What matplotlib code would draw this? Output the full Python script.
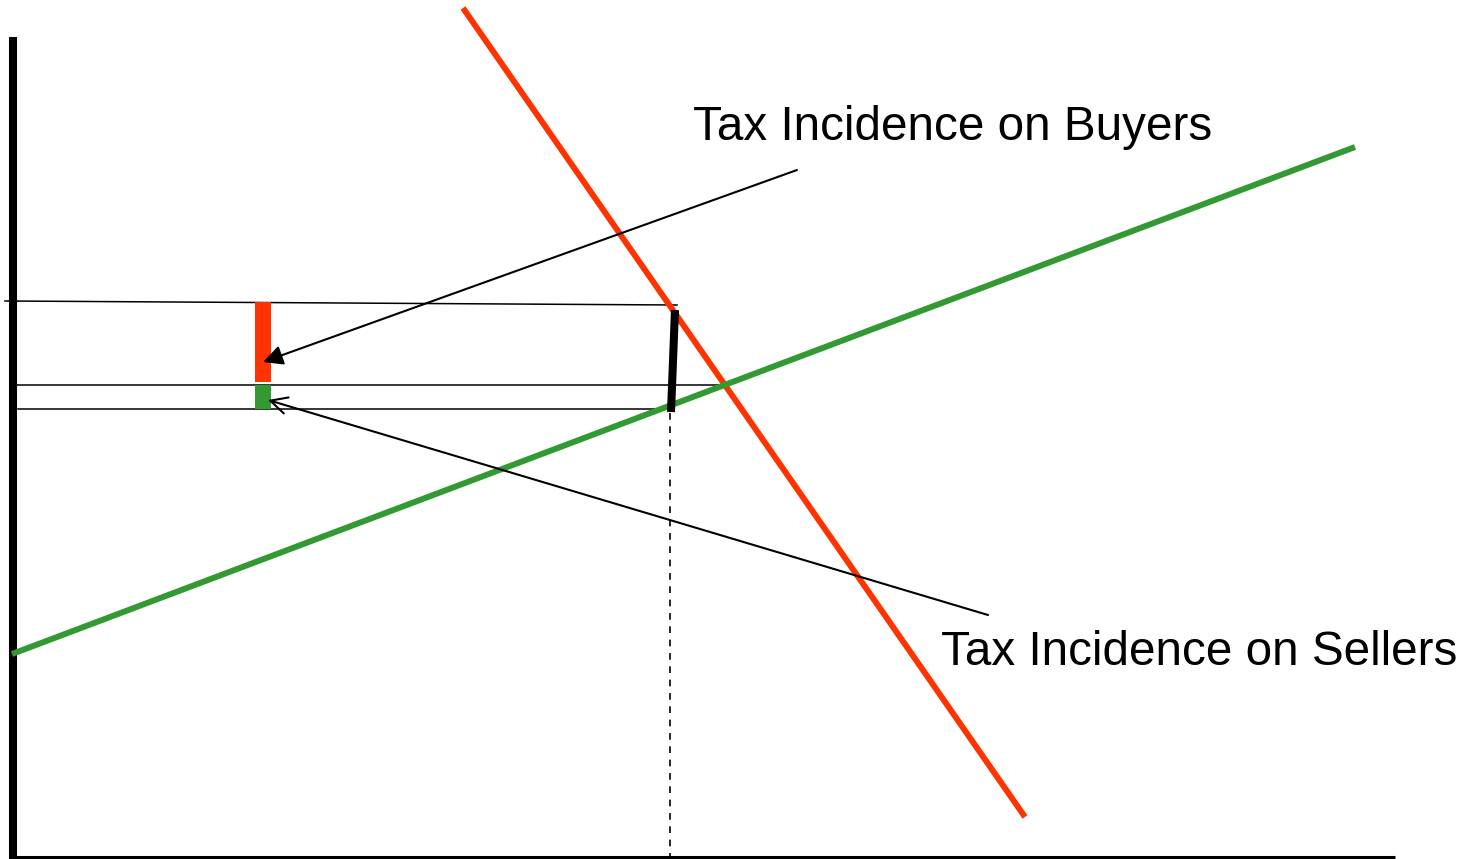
import matplotlib
matplotlib.use("Agg")
import matplotlib.pyplot as plt

plt.rcParams['font.family'] = ['Liberation Sans', 'DejaVu Sans']

RED = '#ff3300'
GREEN = '#339933'

# diagram coordinates (pixel-like units, y grows downwards)
demand_x = [463, 1025]
demand_y = [8, 817]
supply_x = [12, 1355]
supply_y = [654, 147]

# price guide lines: buyers price, no-tax price, sellers price
guide_x0 = [5, 17, 18]
guide_x1 = [677, 723, 667]
guide_y0 = [301, 385, 409]
guide_y1 = [305, 385, 409]

# tax wedge and incidence bars
wedge_x = [675, 671]
wedge_y = [310, 412]
buyer_bar_y = [302, 382]
seller_bar_y = [385, 409]
bar_x = 263
quantity_x = 670

labels = ['Tax Incidence on Buyers', 'Tax Incidence on Sellers']
label_pos = [(693, 140), (941, 665)]
arrow_from = [(797, 170), (988, 615)]
arrow_to = [(263, 362), (268, 400)]

fig = plt.figure(figsize=(14.75, 8.59), dpi=100)
ax = fig.add_axes([0, 0, 1, 1])
ax.set_xlim(0, 1475)
ax.set_ylim(859, 0)
ax.axis('off')

# axes of the diagram
ax.plot([13, 13], [37, 859], color='black', lw=5.8, solid_capstyle='butt')
ax.plot([13, 1395], [857, 857], color='black', lw=2.2, solid_capstyle='butt')

# guide lines
for x0, x1, y0, y1 in zip(guide_x0, guide_x1, guide_y0, guide_y1):
    ax.plot([x0, x1], [y0, y1], color='black', lw=1.1)

# quantity dashed line
ax.plot([quantity_x, quantity_x], [413, 859], color='black', lw=1.2,
        dashes=(4, 4))

# demand and supply curves
ax.plot(demand_x, demand_y, color=RED, lw=4.3, solid_capstyle='butt')
ax.plot(supply_x, supply_y, color=GREEN, lw=4.3, solid_capstyle='butt')

# tax wedge
ax.plot(wedge_x, wedge_y, color='black', lw=5.8, solid_capstyle='butt')

# incidence bars
ax.plot([bar_x, bar_x], buyer_bar_y, color=RED, lw=11.5, solid_capstyle='butt')
ax.plot([bar_x, bar_x], seller_bar_y, color=GREEN, lw=11.5, solid_capstyle='butt')

# arrows and labels
ax.annotate('', xy=arrow_to[0], xytext=arrow_from[0],
            arrowprops=dict(arrowstyle='-|>', color='black', lw=1.5,
                            mutation_scale=30, shrinkA=0, shrinkB=0))
ax.annotate('', xy=arrow_to[1], xytext=arrow_from[1],
            arrowprops=dict(arrowstyle='->', color='black', lw=1.5,
                            mutation_scale=30, shrinkA=0, shrinkB=0))

for txt, (x, y) in zip(labels, label_pos):
    ax.text(x, y, txt, fontsize=34.3, ha='left', va='baseline')

fig.savefig('out.png', dpi=100)
